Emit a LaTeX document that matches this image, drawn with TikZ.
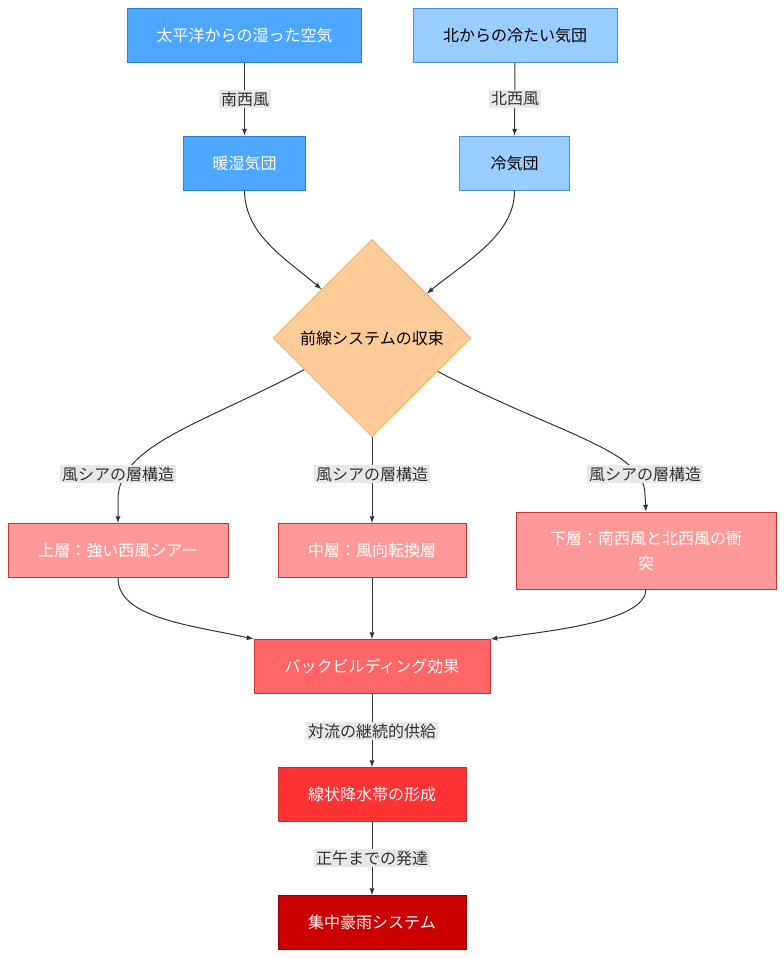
\documentclass[tikz,border=0pt]{standalone}
\usepackage{fontspec}
\setmainfont{Noto Sans CJK JP}
\usepackage{xcolor}
\usepackage{tikz}
\usetikzlibrary{arrows}
\usetikzlibrary{shapes.geometric}
\definecolor{warmblue}{HTML}{4DA6FF}
\definecolor{warmblueline}{HTML}{2F7FD0}
\definecolor{coldblue}{HTML}{99CCFF}
\definecolor{coldblueline}{HTML}{4A90D9}
\definecolor{frontorange}{HTML}{FFCC99}
\definecolor{frontline}{HTML}{F0B870}
\definecolor{layerpink}{HTML}{FF9999}
\definecolor{backred}{HTML}{FF6666}
\definecolor{bandred}{HTML}{FF3333}
\definecolor{rainred}{HTML}{CC0000}
\definecolor{redline}{HTML}{CC3333}
\definecolor{darkline}{HTML}{990000}
\definecolor{lblgray}{HTML}{E8E8E8}
\definecolor{txtgray}{HTML}{333333}
\definecolor{linegray}{HTML}{333333}

\begin{document}
\begin{tikzpicture}[x=0.75pt,y=-0.75pt]
	\useasboundingbox (0,0) rectangle (784,958);
	\tikzstyle{every node}=[font=\fontsize{12pt}{18.75pt}\selectfont]
	\tikzstyle{box}=[draw,shape=rectangle,line width=0.75pt,minimum height=40.5pt,inner sep=0pt]
	\tikzstyle{lbl}=[fill=lblgray,text=txtgray,inner sep=1.5pt]
	\tikzstyle{arr}=[draw=linegray,line width=0.75pt,-latex]
	\node[box,fill=warmblue,draw=warmblueline,text=white,minimum width=176pt] (pac) at (244.5,35) {太平洋からの湿った空気};
	\node[box,fill=coldblue,draw=coldblueline,minimum width=153pt] (north) at (515,35) {北からの冷たい気団};
	\node[box,fill=warmblue,draw=warmblueline,text=white,minimum width=92pt] (warm) at (244.5,163) {暖湿気団};
	\node[box,fill=coldblue,draw=coldblueline,minimum width=82pt] (cold) at (514.5,163) {冷気団};
	\node[draw=frontline,fill=frontorange,shape=diamond,line width=0.75pt,minimum width=148.5pt,minimum height=148pt,inner sep=0pt] (front) at (372,338) {前線システムの収束};
	\node[box,fill=layerpink,draw=redline,text=white,minimum width=165pt] (upper) at (118,550.5) {上層：強い西風シアー};
	\node[box,fill=layerpink,draw=redline,text=white,minimum width=141pt] (middle) at (372,550.5) {中層：風向転換層};
	\node[box,fill=layerpink,draw=redline,text=white,minimum width=195pt,minimum height=57.75pt,align=center] (lower) at (646,550.5) {下層：南西風と北西風の衝\\突};
	\node[box,fill=backred,draw=redline,text=white,minimum width=177pt] (back) at (372,666.5) {バックビルディング効果};
	\node[box,fill=bandred,draw=redline,text=white,minimum width=141pt] (band) at (372,794.5) {線状降水帯の形成};
	\node[box,fill=rainred,draw=darkline,text=white,minimum width=141pt] (rain) at (372,922.5) {集中豪雨システム};
	\coordinate (l1) at (245,99);
	\coordinate (l2) at (515,99);
	\coordinate (l3) at (118,474);
	\coordinate (l4) at (372,474);
	\coordinate (l5) at (645,474);
	\coordinate (l6) at (372,731);
	\coordinate (l7) at (372,858);
	\draw[arr] (pac) -- (warm);
	\draw[arr] (north) -- (cold);
	\draw[arr] (warm.south) .. controls (245,235) and (285,258) .. (front.136);
	\draw[arr] (cold.south) .. controls (515,235) and (465,262) .. (front.39);
	\draw[arr] (front.205) .. controls (200,425) and (118,445) .. (118,500) -- (upper.north);
	\draw[arr] (front.south) -- (middle.north);
	\draw[arr] (front.333) .. controls (560,435) and (645,450) .. (645,495) -- (lower.north);
	\draw[arr] (upper.south) .. controls (118,618) and (190,625) .. (back.north west);
	\draw[arr] (middle.south) -- (back.north);
	\draw[arr] (lower.south) .. controls (645,620) and (560,630) .. (back.north east);
	\draw[arr] (back) -- (band);
	\draw[arr] (band) -- (rain);
	\node[lbl] (w1) at (l1) {南西風};
	\node[lbl] (w2) at (l2) {北西風};
	\node[lbl] (s1) at (l3) {風シアの層構造};
	\node[lbl] (s2) at (l4) {風シアの層構造};
	\node[lbl] (s3) at (l5) {風シアの層構造};
	\node[lbl] (c1) at (l6) {対流の継続的供給};
	\node[lbl] (c2) at (l7) {正午までの発達};
\end{tikzpicture}
\end{document}
